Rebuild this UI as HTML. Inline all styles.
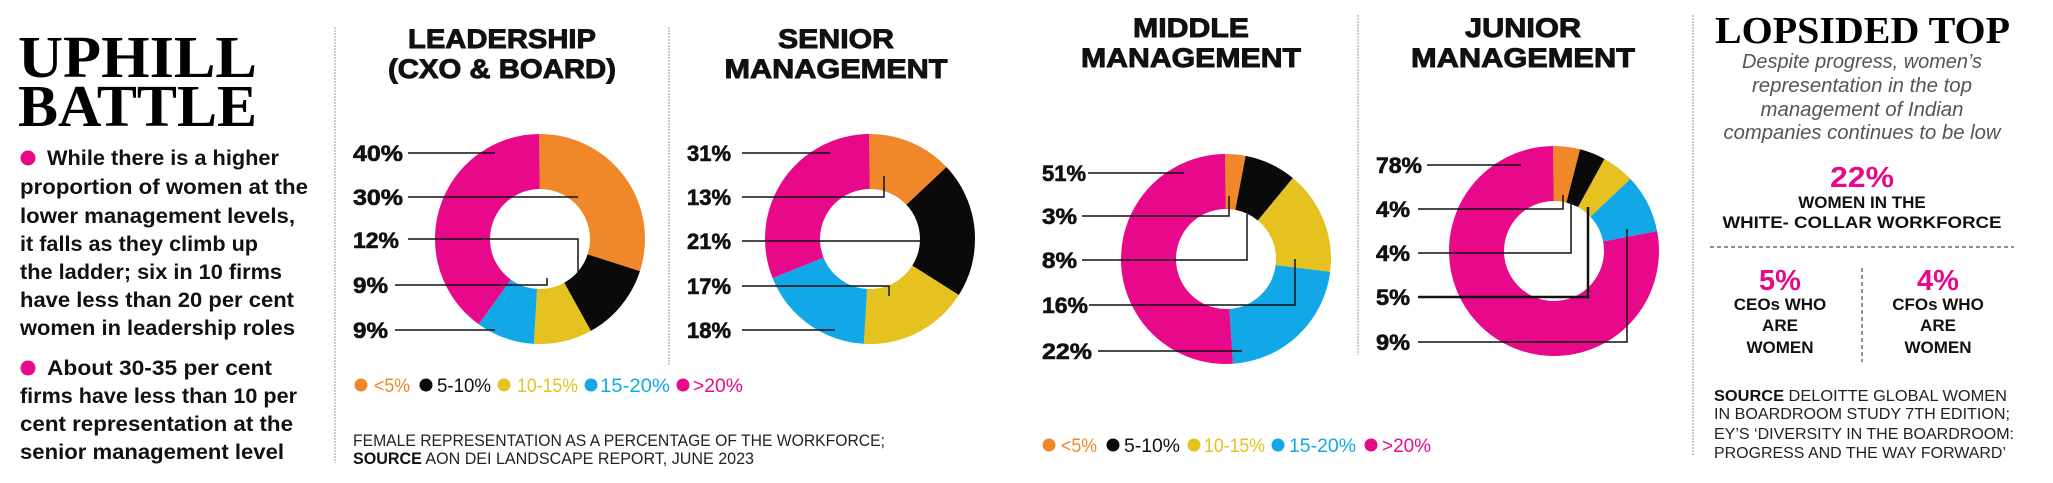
<!DOCTYPE html>
<html><head><meta charset="utf-8"><style>
html,body{margin:0;padding:0;background:#fff;}
svg{display:block;}
text{font-family:"Liberation Sans",sans-serif;}
.serif{font-family:"Liberation Serif",serif;font-weight:bold;}
.b{font-weight:bold;}
.lab{font-weight:bold;font-size:22px;fill:#111;stroke:#111;stroke-width:0.6;}
.tt{font-weight:bold;font-size:27px;fill:#111;stroke:#111;stroke-width:0.9;}
.bl{font-weight:bold;font-size:21px;fill:#111;}
.lg{font-size:19px;}
.ln{stroke:#111;stroke-width:1.5;fill:none;}
</style></head><body>
<svg width="2053" height="483" viewBox="0 0 2053 483" xmlns="http://www.w3.org/2000/svg">
<rect width="2053" height="483" fill="#fff"/>

<!-- Left panel -->
<text class="serif" x="18" y="77" font-size="59" textLength="239" lengthAdjust="spacingAndGlyphs">UPHILL</text>
<text class="serif" x="18" y="126" font-size="59" textLength="239" lengthAdjust="spacingAndGlyphs">BATTLE</text>
<circle cx="28" cy="158" r="7.5" fill="#e8088a"/>
<text class="bl" x="47" y="165" textLength="232" lengthAdjust="spacingAndGlyphs">While there is a higher</text>
<text class="bl" x="20" y="194" textLength="288" lengthAdjust="spacingAndGlyphs">proportion of women at the</text>
<text class="bl" x="20" y="223" textLength="275" lengthAdjust="spacingAndGlyphs">lower management levels,</text>
<text class="bl" x="20" y="251" textLength="238" lengthAdjust="spacingAndGlyphs">it falls as they climb up</text>
<text class="bl" x="20" y="279" textLength="262" lengthAdjust="spacingAndGlyphs">the ladder; six in 10 firms</text>
<text class="bl" x="20" y="307" textLength="274" lengthAdjust="spacingAndGlyphs">have less than 20 per cent</text>
<text class="bl" x="20" y="335" textLength="275" lengthAdjust="spacingAndGlyphs">women in leadership roles</text>
<circle cx="28" cy="368" r="7.5" fill="#e8088a"/>
<text class="bl" x="47" y="375" textLength="225" lengthAdjust="spacingAndGlyphs">About 30-35 per cent</text>
<text class="bl" x="20" y="403" textLength="277" lengthAdjust="spacingAndGlyphs">firms have less than 10 per</text>
<text class="bl" x="20" y="431" textLength="273" lengthAdjust="spacingAndGlyphs">cent representation at the</text>
<text class="bl" x="20" y="459" textLength="264" lengthAdjust="spacingAndGlyphs">senior management level</text>

<!-- dividers -->
<line x1="335" y1="27" x2="335" y2="463" stroke="#999" stroke-width="1" stroke-dasharray="2 1"/>
<line x1="669" y1="27" x2="669" y2="365" stroke="#999" stroke-width="1" stroke-dasharray="2 1"/>
<line x1="1358" y1="15" x2="1358" y2="355" stroke="#999" stroke-width="1" stroke-dasharray="2 1"/>
<line x1="1693" y1="15" x2="1693" y2="455" stroke="#999" stroke-width="1" stroke-dasharray="2 1"/>

<!-- Titles -->
<text class="tt" x="502" y="48" text-anchor="middle" textLength="188" lengthAdjust="spacingAndGlyphs">LEADERSHIP</text>
<text class="tt" x="502" y="78" text-anchor="middle" textLength="228" lengthAdjust="spacingAndGlyphs">(CXO &amp; BOARD)</text>
<text class="tt" x="836" y="48" text-anchor="middle" textLength="116" lengthAdjust="spacingAndGlyphs">SENIOR</text>
<text class="tt" x="836" y="78" text-anchor="middle" textLength="223" lengthAdjust="spacingAndGlyphs">MANAGEMENT</text>
<text class="tt" x="1191" y="37" text-anchor="middle" textLength="116" lengthAdjust="spacingAndGlyphs">MIDDLE</text>
<text class="tt" x="1191" y="67" text-anchor="middle" textLength="220" lengthAdjust="spacingAndGlyphs">MANAGEMENT</text>
<text class="tt" x="1523" y="37" text-anchor="middle" textLength="116" lengthAdjust="spacingAndGlyphs">JUNIOR</text>
<text class="tt" x="1523" y="67" text-anchor="middle" textLength="224" lengthAdjust="spacingAndGlyphs">MANAGEMENT</text>

<!-- Donut 1 -->
<g transform="rotate(-90 540 239)" fill="none" stroke-width="55">
<circle cx="540" cy="239" r="77.5" pathLength="100" stroke="#f0882a" stroke-dasharray="30 70" stroke-dashoffset="0"/>
<circle cx="540" cy="239" r="77.5" pathLength="100" stroke="#0a0a0a" stroke-dasharray="12 88" stroke-dashoffset="-30"/>
<circle cx="540" cy="239" r="77.5" pathLength="100" stroke="#e5c21f" stroke-dasharray="9 91" stroke-dashoffset="-42"/>
<circle cx="540" cy="239" r="77.5" pathLength="100" stroke="#12a8e8" stroke-dasharray="9 91" stroke-dashoffset="-51"/>
<circle cx="540" cy="239" r="77.5" pathLength="100" stroke="#e8088a" stroke-dasharray="40 60" stroke-dashoffset="-60"/>
</g>
<text class="lab" x="353" y="161" textLength="50" lengthAdjust="spacingAndGlyphs">40%</text>
<text class="lab" x="353" y="205" textLength="50" lengthAdjust="spacingAndGlyphs">30%</text>
<text class="lab" x="353" y="248" textLength="46" lengthAdjust="spacingAndGlyphs">12%</text>
<text class="lab" x="353" y="293" textLength="35" lengthAdjust="spacingAndGlyphs">9%</text>
<text class="lab" x="353" y="338" textLength="35" lengthAdjust="spacingAndGlyphs">9%</text>
<path class="ln" d="M408 153H495 M408 197H578 M408 239H578V272 M395 285H547V278 M395 330H495"/>
<!-- legend 1 -->
<g class="lg">
<circle cx="361" cy="385" r="6.5" fill="#f0882a"/><text x="374" y="392" fill="#f0882a" textLength="36" lengthAdjust="spacingAndGlyphs">&lt;5%</text>
<circle cx="426" cy="385" r="6.5" fill="#0a0a0a"/><text x="437" y="392" fill="#111" textLength="54" lengthAdjust="spacingAndGlyphs">5-10%</text>
<circle cx="504" cy="385" r="6.5" fill="#e5c21f"/><text x="517" y="392" fill="#e5c21f" textLength="61" lengthAdjust="spacingAndGlyphs">10-15%</text>
<circle cx="591" cy="385" r="6.5" fill="#12a8e8"/><text x="600" y="392" fill="#12a8e8" textLength="70" lengthAdjust="spacingAndGlyphs">15-20%</text>
<circle cx="683" cy="385" r="6.5" fill="#e8088a"/><text x="693" y="392" fill="#e8088a" textLength="50" lengthAdjust="spacingAndGlyphs">&gt;20%</text>
</g>
<text x="353" y="446" font-size="17" fill="#222" textLength="532" lengthAdjust="spacingAndGlyphs">FEMALE REPRESENTATION AS A PERCENTAGE OF THE WORKFORCE;</text>
<text x="353" y="464" font-size="17" fill="#222" textLength="401" lengthAdjust="spacingAndGlyphs"><tspan font-weight="bold" fill="#111">SOURCE</tspan> AON DEI LANDSCAPE REPORT, JUNE 2023</text>

<!-- Donut 2 -->
<g transform="rotate(-90 870 239)" fill="none" stroke-width="55">
<circle cx="870" cy="239" r="77.5" pathLength="100" stroke="#f0882a" stroke-dasharray="13 87" stroke-dashoffset="0"/>
<circle cx="870" cy="239" r="77.5" pathLength="100" stroke="#0a0a0a" stroke-dasharray="21 79" stroke-dashoffset="-13"/>
<circle cx="870" cy="239" r="77.5" pathLength="100" stroke="#e5c21f" stroke-dasharray="17 83" stroke-dashoffset="-34"/>
<circle cx="870" cy="239" r="77.5" pathLength="100" stroke="#12a8e8" stroke-dasharray="18 82" stroke-dashoffset="-51"/>
<circle cx="870" cy="239" r="77.5" pathLength="100" stroke="#e8088a" stroke-dasharray="31 69" stroke-dashoffset="-69"/>
</g>
<text class="lab" x="687" y="161" textLength="44" lengthAdjust="spacingAndGlyphs">31%</text>
<text class="lab" x="687" y="205" textLength="44" lengthAdjust="spacingAndGlyphs">13%</text>
<text class="lab" x="687" y="249" textLength="44" lengthAdjust="spacingAndGlyphs">21%</text>
<text class="lab" x="687" y="294" textLength="44" lengthAdjust="spacingAndGlyphs">17%</text>
<text class="lab" x="687" y="338" textLength="44" lengthAdjust="spacingAndGlyphs">18%</text>
<path class="ln" d="M742 153H830 M742 197H884V176 M742 241H920 M742 286H889V296 M742 330H835"/>

<!-- Donut 3 -->
<g transform="rotate(-90 1226 259)" fill="none" stroke-width="55">
<circle cx="1226" cy="259" r="77.5" pathLength="100" stroke="#f0882a" stroke-dasharray="3 97" stroke-dashoffset="0"/>
<circle cx="1226" cy="259" r="77.5" pathLength="100" stroke="#0a0a0a" stroke-dasharray="8 92" stroke-dashoffset="-3"/>
<circle cx="1226" cy="259" r="77.5" pathLength="100" stroke="#e5c21f" stroke-dasharray="16 84" stroke-dashoffset="-11"/>
<circle cx="1226" cy="259" r="77.5" pathLength="100" stroke="#12a8e8" stroke-dasharray="22 78" stroke-dashoffset="-27"/>
<circle cx="1226" cy="259" r="77.5" pathLength="100" stroke="#e8088a" stroke-dasharray="51 49" stroke-dashoffset="-49"/>
</g>
<text class="lab" x="1042" y="181" textLength="44" lengthAdjust="spacingAndGlyphs">51%</text>
<text class="lab" x="1042" y="224" textLength="35" lengthAdjust="spacingAndGlyphs">3%</text>
<text class="lab" x="1042" y="268" textLength="35" lengthAdjust="spacingAndGlyphs">8%</text>
<text class="lab" x="1042" y="313" textLength="46" lengthAdjust="spacingAndGlyphs">16%</text>
<text class="lab" x="1042" y="359" textLength="50" lengthAdjust="spacingAndGlyphs">22%</text>
<path class="ln" d="M1088 173H1184 M1082 216H1229V196 M1082 260H1247V214 M1089 305H1295V259 M1098 351H1242"/>
<!-- legend 2 -->
<g class="lg">
<circle cx="1049" cy="445" r="6.5" fill="#f0882a"/><text x="1061" y="452" fill="#f0882a" textLength="36" lengthAdjust="spacingAndGlyphs">&lt;5%</text>
<circle cx="1113" cy="445" r="6.5" fill="#0a0a0a"/><text x="1124" y="452" fill="#111" textLength="56" lengthAdjust="spacingAndGlyphs">5-10%</text>
<circle cx="1194" cy="445" r="6.5" fill="#e5c21f"/><text x="1204" y="452" fill="#e5c21f" textLength="61" lengthAdjust="spacingAndGlyphs">10-15%</text>
<circle cx="1278" cy="445" r="6.5" fill="#12a8e8"/><text x="1289" y="452" fill="#12a8e8" textLength="67" lengthAdjust="spacingAndGlyphs">15-20%</text>
<circle cx="1371" cy="445" r="6.5" fill="#e8088a"/><text x="1382" y="452" fill="#e8088a" textLength="49" lengthAdjust="spacingAndGlyphs">&gt;20%</text>
</g>

<!-- Donut 4 -->
<g transform="rotate(-90 1554 251)" fill="none" stroke-width="55">
<circle cx="1554" cy="251" r="77.5" pathLength="100" stroke="#f0882a" stroke-dasharray="4 96" stroke-dashoffset="0"/>
<circle cx="1554" cy="251" r="77.5" pathLength="100" stroke="#0a0a0a" stroke-dasharray="4 96" stroke-dashoffset="-4"/>
<circle cx="1554" cy="251" r="77.5" pathLength="100" stroke="#e5c21f" stroke-dasharray="5 95" stroke-dashoffset="-8"/>
<circle cx="1554" cy="251" r="77.5" pathLength="100" stroke="#12a8e8" stroke-dasharray="9 91" stroke-dashoffset="-13"/>
<circle cx="1554" cy="251" r="77.5" pathLength="100" stroke="#e8088a" stroke-dasharray="78 22" stroke-dashoffset="-22"/>
</g>
<text class="lab" x="1376" y="173" textLength="46" lengthAdjust="spacingAndGlyphs">78%</text>
<text class="lab" x="1376" y="217" textLength="34" lengthAdjust="spacingAndGlyphs">4%</text>
<text class="lab" x="1376" y="261" textLength="34" lengthAdjust="spacingAndGlyphs">4%</text>
<text class="lab" x="1376" y="305" textLength="34" lengthAdjust="spacingAndGlyphs">5%</text>
<text class="lab" x="1376" y="350" textLength="34" lengthAdjust="spacingAndGlyphs">9%</text>
<path class="ln" d="M1427 165H1521 M1418 209H1563V195 M1418 253H1571V197 M1418 342H1627V229"/>
<path d="M1418 297H1588V207" stroke="#111" stroke-width="2.5" fill="none"/>

<!-- Right panel -->
<text class="serif" x="1715" y="43" font-size="38" textLength="295" lengthAdjust="spacingAndGlyphs">LOPSIDED TOP</text>
<g font-style="italic" font-size="20" fill="#555" text-anchor="middle">
<text x="1862" y="68" textLength="240" lengthAdjust="spacingAndGlyphs">Despite progress, women’s</text>
<text x="1862" y="92" textLength="220" lengthAdjust="spacingAndGlyphs">representation in the top</text>
<text x="1862" y="116" textLength="203" lengthAdjust="spacingAndGlyphs">management of Indian</text>
<text x="1862" y="139" textLength="277" lengthAdjust="spacingAndGlyphs">companies continues to be low</text>
</g>
<text class="b" x="1862" y="187" font-size="29" fill="#e8088a" text-anchor="middle" textLength="64" lengthAdjust="spacingAndGlyphs">22%</text>
<text class="b" x="1862" y="208" font-size="17" fill="#111" text-anchor="middle">WOMEN IN THE</text>
<text class="b" x="1862" y="228" font-size="17" fill="#111" text-anchor="middle" textLength="279" lengthAdjust="spacingAndGlyphs">WHITE- COLLAR WORKFORCE</text>
<line x1="1710" y1="247" x2="2014" y2="247" stroke="#222" stroke-width="1" stroke-dasharray="4 3"/>
<line x1="1862" y1="268" x2="1862" y2="362" stroke="#222" stroke-width="1" stroke-dasharray="4 3"/>
<text class="b" x="1780" y="290" font-size="29" fill="#e8088a" text-anchor="middle">5%</text>
<text class="b" x="1780" y="310" font-size="17" fill="#111" text-anchor="middle">CEOs WHO</text>
<text class="b" x="1780" y="331" font-size="17" fill="#111" text-anchor="middle">ARE</text>
<text class="b" x="1780" y="353" font-size="17" fill="#111" text-anchor="middle">WOMEN</text>
<text class="b" x="1938" y="290" font-size="29" fill="#e8088a" text-anchor="middle">4%</text>
<text class="b" x="1938" y="310" font-size="17" fill="#111" text-anchor="middle">CFOs WHO</text>
<text class="b" x="1938" y="331" font-size="17" fill="#111" text-anchor="middle">ARE</text>
<text class="b" x="1938" y="353" font-size="17" fill="#111" text-anchor="middle">WOMEN</text>
<g font-size="16" fill="#222">
<text x="1714" y="401" textLength="293" lengthAdjust="spacingAndGlyphs"><tspan font-weight="bold" fill="#111">SOURCE</tspan> DELOITTE GLOBAL WOMEN</text>
<text x="1714" y="419" textLength="296" lengthAdjust="spacingAndGlyphs">IN BOARDROOM STUDY 7TH EDITION;</text>
<text x="1714" y="439" textLength="300" lengthAdjust="spacingAndGlyphs">EY’S ‘DIVERSITY IN THE BOARDROOM:</text>
<text x="1714" y="458" textLength="292" lengthAdjust="spacingAndGlyphs">PROGRESS AND THE WAY FORWARD’</text>
</g>
</svg>
</body></html>
